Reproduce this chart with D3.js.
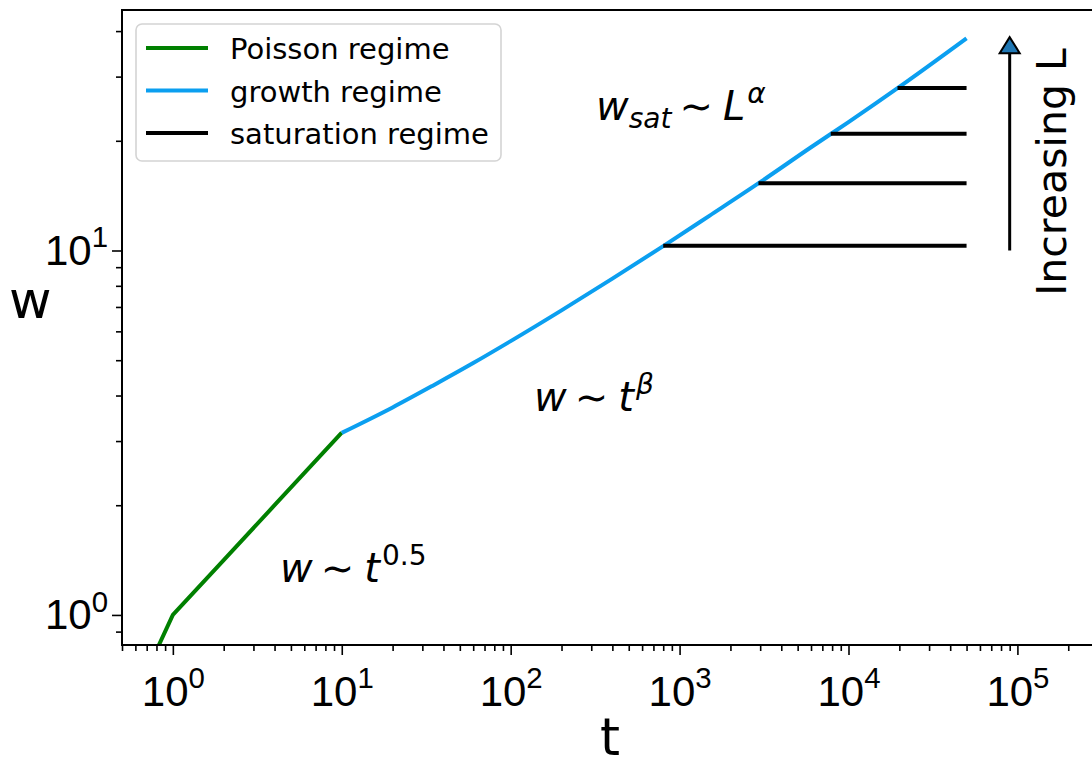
<!DOCTYPE html>
<html>
<head>
<meta charset="utf-8">
<script src="https://cdn.jsdelivr.net/npm/d3@7"></script>
<style>
  html, body { margin: 0; padding: 0; background: #fff; }
  svg { display: block; font-family: "DejaVu Sans", sans-serif; }
</style>
</head>
<body>
<svg id="chart" width="1092" height="761"></svg>
<script>
// Poisson regime: w grows as t^0.5
const poissonT = [0.5, 1, 2, 4, 10];
const poissonW = [0.5, 1, 1.414, 2.0, 3.162];

// growth regime: w ~ t^beta
const growthT = [10, 20, 35, 60, 100, 200, 400, 800, 1500, 3000, 6000, 10000, 20000, 50000];
const growthW = [3.16, 3.71, 4.27, 4.91, 5.64, 6.85, 8.37, 10.28, 12.45, 15.4, 19.2, 22.5, 28.1, 38.2];

// saturation plateaus for increasing system size L
const satStartT = [800, 2930, 7850, 19500];
const satEndT = [50000, 50000, 50000, 50000];
const satW = [10.3, 15.3, 20.9, 27.9];

// arrow "Increasing L"
const arrowT = 90000;
const arrowW = [10, 38.5];

const xMajor = [1, 10, 100, 1000, 10000, 100000];
const xMajorExp = ["0", "1", "2", "3", "4", "5"];
const yMajor = [1, 10];
const yMajorExp = ["0", "1"];

const legendLabels = ["Poisson regime", "growth regime", "saturation regime"];
const colors = { poisson: "#008000", growth: "#0b9ff0", sat: "#000000" };

const svg = d3.select("#chart");
const mLeft = 122, mTop = 10, mBottom = 645, mRight = 1098;

const x = d3.scaleLog().domain([0.5, 3e5]).range([mLeft, mRight]);
const y = d3.scaleLog().domain([0.827, 45.7]).range([mBottom, mTop]);

svg.append("defs").append("clipPath").attr("id", "plotclip")
  .append("rect").attr("x", mLeft).attr("y", mTop).attr("width", mRight - mLeft).attr("height", mBottom - mTop);

const plot = svg.append("g").attr("clip-path", "url(#plotclip)");

const line = d3.line().x(d => x(d[0])).y(d => y(d[1]));

plot.append("path").datum(d3.zip(poissonT, poissonW))
  .attr("d", line).attr("fill", "none").attr("stroke", colors.poisson)
  .attr("stroke-width", 4).attr("stroke-linejoin", "round");

plot.append("path").datum(d3.zip(growthT, growthW))
  .attr("d", line.curve(d3.curveMonotoneX)).attr("fill", "none").attr("stroke", colors.growth)
  .attr("stroke-width", 4).attr("stroke-linejoin", "round");

plot.selectAll("line.sat").data(satW).join("line").attr("class", "sat")
  .attr("x1", (d, i) => x(satStartT[i])).attr("x2", (d, i) => x(satEndT[i]))
  .attr("y1", d => y(d)).attr("y2", d => y(d))
  .attr("stroke", colors.sat).attr("stroke-width", 4);

// arrow
const ax = x(arrowT), ay0 = y(arrowW[0]), ay1 = y(arrowW[1]);
const headLen = 16, headHalf = 10;
plot.append("line").attr("x1", ax).attr("x2", ax).attr("y1", ay0).attr("y2", ay1 + headLen)
  .attr("stroke", "#000").attr("stroke-width", 3);
plot.append("path")
  .attr("d", `M${ax},${ay1} L${ax - headHalf},${ay1 + headLen} L${ax + headHalf},${ay1 + headLen} Z`)
  .attr("fill", "#1f77b4").attr("stroke", "#000").attr("stroke-width", 2).attr("stroke-linejoin", "miter");

svg.append("text").attr("transform", `translate(${1066},${172}) rotate(-90)`)
  .attr("text-anchor", "middle").style("font-size", "41px").attr("fill", "#000")
  .text("Increasing L");

// axes
function minorTicks(domain) {
  const out = [];
  for (let e = -1; e <= 6; e++) {
    for (let m = 2; m <= 9; m++) {
      const v = m * Math.pow(10, e);
      if (v >= domain[0] * 0.999 && v <= domain[1]) out.push(v);
    }
  }
  return out;
}

const xAxisMinor = d3.axisBottom(x).tickValues(minorTicks(x.domain())).tickSize(6).tickFormat("");
const xAxisMajor = d3.axisBottom(x).tickValues(xMajor).tickSize(10).tickFormat("");
const yAxisMinor = d3.axisLeft(y).tickValues(minorTicks(y.domain())).tickSize(6).tickFormat("");
const yAxisMajor = d3.axisLeft(y).tickValues(yMajor).tickSize(10).tickFormat("");

function styleAxis(g) {
  g.select(".domain").remove();
  g.selectAll(".tick line").attr("stroke", "#000").attr("stroke-width", 1.6);
}
svg.append("g").attr("transform", `translate(0,${mBottom})`).call(xAxisMinor).call(styleAxis);
const gxMaj = svg.append("g").attr("transform", `translate(0,${mBottom})`).call(xAxisMajor).call(styleAxis);
svg.append("g").attr("transform", `translate(${mLeft},0)`).call(yAxisMinor).call(styleAxis);
const gyMaj = svg.append("g").attr("transform", `translate(${mLeft},0)`).call(yAxisMajor).call(styleAxis);

// spines
svg.append("rect").attr("x", mLeft).attr("y", mTop).attr("width", mRight - mLeft).attr("height", mBottom - mTop)
  .attr("fill", "none").attr("stroke", "#000").attr("stroke-width", 2);

// power-of-ten tick labels
function powLabel(sel, size, exp) {
  sel.append("tspan").text("10");
  sel.append("tspan").text(exp).style("font-size", (size * 0.7) + "px").attr("dy", -size * 0.42);
}
const tickFont = 42;
gxMaj.selectAll(".tick").each(function (d, i) {
  const t = d3.select(this).append("text").attr("x", 0).attr("y", 61)
    .attr("text-anchor", "middle").attr("fill", "#000").style("font-size", tickFont + "px");
  powLabel(t, tickFont, xMajorExp[i]);
});
gyMaj.selectAll(".tick").each(function (d, i) {
  const t = d3.select(this).append("text").attr("x", -14).attr("y", 14)
    .attr("text-anchor", "end").attr("fill", "#000").style("font-size", tickFont + "px");
  powLabel(t, tickFont, yMajorExp[i]);
});

// axis titles
svg.append("text").attr("x", (mLeft + mRight) / 2).attr("y", 755).attr("text-anchor", "middle")
  .style("font-size", "51px").attr("fill", "#000").text("t");
svg.append("text").attr("x", 9).attr("y", 318)
  .style("font-size", "52px").attr("fill", "#000").text("w");

// math-style annotations
function mathText(px, py, size, parts) {
  const t = svg.append("text").attr("x", px).attr("y", py).style("font-size", size + "px").attr("fill", "#000");
  parts.forEach(p => {
    const s = t.append("tspan").text(p.s);
    if (p.it) s.style("font-style", "oblique");
    if (p.scale) s.style("font-size", (size * p.scale) + "px");
    if (p.dx) s.attr("dx", p.dx);
    if (p.dy) s.attr("dy", p.dy);
  });
  return t;
}
mathText(280, 582, 40, [
  { s: "w", it: true },
  { s: "\u223C", dx: 8 },
  { s: "t", it: true, dx: 10 },
  { s: "0.5", scale: 0.7, dy: -17, dx: 2 }
]);
mathText(534, 411, 40, [
  { s: "w", it: true },
  { s: "\u223C", dx: 8 },
  { s: "t", it: true, dx: 10 },
  { s: "\u03B2", it: true, scale: 0.7, dy: -17, dx: 2 }
]);
mathText(596, 120, 40, [
  { s: "w", it: true },
  { s: "sat", it: true, scale: 0.7, dy: 8 },
  { s: "\u223C", dx: 8, dy: -8 },
  { s: "L", it: true, dx: 10 },
  { s: "\u03B1", it: true, scale: 0.7, dy: -17, dx: 2 }
]);

// legend
const lg = svg.append("g");
lg.append("rect").attr("x", 136).attr("y", 24).attr("width", 365).attr("height", 137).attr("rx", 6)
  .attr("fill", "#fff").attr("fill-opacity", 0.8).attr("stroke", "#d4d4d4").attr("stroke-width", 1.6);
const legendColors = [colors.poisson, colors.growth, colors.sat];
legendLabels.forEach((lab, i) => {
  const ly = 48 + i * 42.5;
  lg.append("line").attr("x1", 146).attr("x2", 208).attr("y1", ly).attr("y2", ly)
    .attr("stroke", legendColors[i]).attr("stroke-width", 4);
  lg.append("text").attr("x", 230).attr("y", ly + 11).style("font-size", "29px").attr("fill", "#000").text(lab);
});
</script>
</body>
</html>
